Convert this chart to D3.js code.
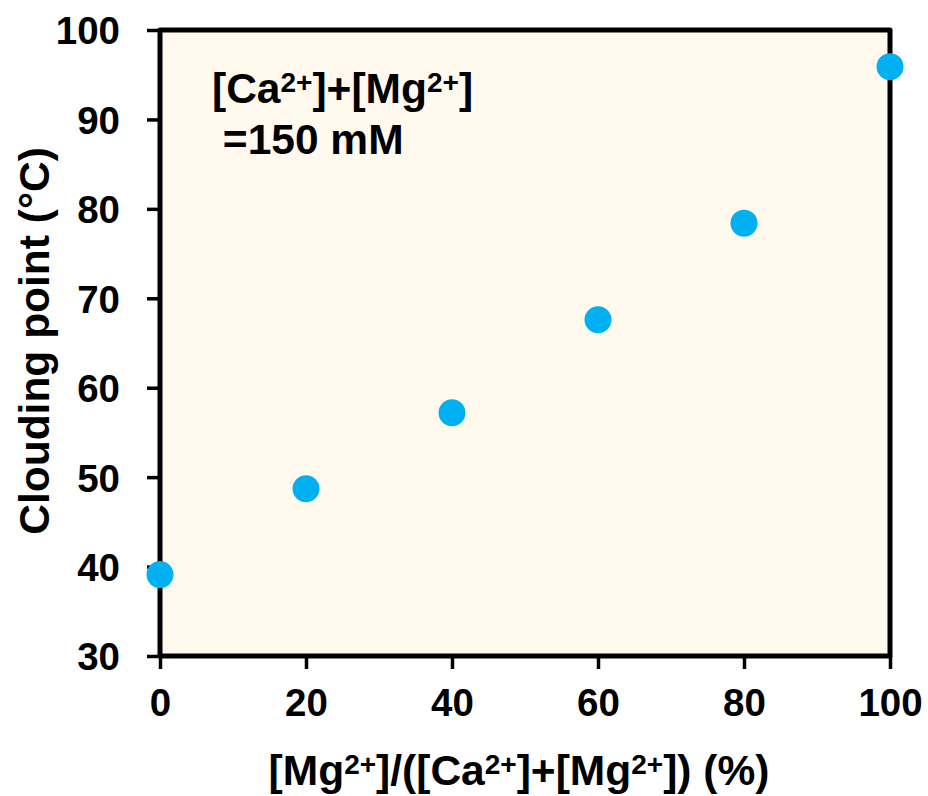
<!DOCTYPE html>
<html>
<head>
<meta charset="utf-8">
<script src="https://cdn.jsdelivr.net/npm/d3@7"></script>
<style>
  html, body { margin: 0; padding: 0; background: #ffffff; }
  svg { display: block; }
  text { font-family: "Liberation Sans", Arial, sans-serif; font-weight: bold; fill: #000; }
</style>
</head>
<body>
<svg id="chart" width="928" height="796"></svg>
<script>
// ---- data ----
const mgFraction = [0, 20, 40, 60, 80, 100];          // [Mg2+]/([Ca2+]+[Mg2+]) (%)
const cloudingPoint = [39.1, 48.7, 57.2, 67.6, 78.4, 95.9]; // °C
const xTicks = [0, 20, 40, 60, 80, 100];
const yTicks = [30, 40, 50, 60, 70, 80, 90, 100];

const svg = d3.select("#chart");
const margin = { left: 160, right: 38, top: 30, bottom: 140 };
const W = 928, H = 796;
const x = d3.scaleLinear().domain([0, 100]).range([margin.left, W - margin.right]);
const y = d3.scaleLinear().domain([30, 100]).range([H - margin.bottom, margin.top]);

// plot background
svg.append("rect")
  .attr("x", x(0)).attr("y", y(100))
  .attr("width", x(100) - x(0)).attr("height", y(30) - y(100))
  .attr("fill", "#FFF9EE");

// axes
const xAxis = svg.append("g")
  .attr("transform", `translate(0,${y(30)})`)
  .call(d3.axisBottom(x).tickValues(xTicks).tickSize(13).tickPadding(20));
const yAxis = svg.append("g")
  .attr("transform", `translate(${x(0)},0)`)
  .call(d3.axisLeft(y).tickValues(yTicks).tickSize(13).tickPadding(27));

[xAxis, yAxis].forEach(g => {
  g.select(".domain").remove();
  g.selectAll(".tick line").attr("stroke", "#000").attr("stroke-width", 3.5);
  g.selectAll(".tick text")
    .attr("font-size", 38.5)
    .attr("font-family", "'Liberation Sans', Arial, sans-serif")
    .attr("font-weight", "bold")
    .attr("fill", "#000");
});
yAxis.selectAll(".tick text").attr("dy", "0.36em");

// frame
svg.append("rect")
  .attr("x", x(0)).attr("y", y(100))
  .attr("width", x(100) - x(0)).attr("height", y(30) - y(100))
  .attr("fill", "none").attr("stroke", "#000").attr("stroke-width", 5)
  .attr("stroke-linejoin", "round");

// points
svg.append("g").selectAll("circle")
  .data(mgFraction.map((m, i) => ({ m, c: cloudingPoint[i] })))
  .join("circle")
  .attr("cx", d => x(d.m))
  .attr("cy", d => y(d.c))
  .attr("r", 13.5)
  .attr("fill", "#00B0F0");

// helper for text with superscripts
function richText(sel, parts, size) {
  parts.forEach(p => {
    if (p.sup) {
      sel.append("tspan").attr("baseline-shift", "40%").attr("font-size", size * 0.66).text(p.t);
    } else {
      sel.append("tspan").attr("font-size", size).text(p.t);
    }
  });
}

const FS = 42.5;

// annotation
const ann1 = svg.append("text").attr("x", 212).attr("y", 103).attr("font-size", FS);
richText(ann1, [{t: "[Ca"}, {t: "2+", sup: true}, {t: "]+[Mg"}, {t: "2+", sup: true}, {t: "]"}], FS);
svg.append("text").attr("x", 211).attr("y", 154).attr("font-size", FS).attr("xml:space", "preserve").text(" =150 mM");

// x title
const xt = svg.append("text").attr("x", 519).attr("y", 785).attr("text-anchor", "middle").attr("font-size", FS);
richText(xt, [{t: "[Mg"}, {t: "2+", sup: true}, {t: "]/([Ca"}, {t: "2+", sup: true}, {t: "]+[Mg"}, {t: "2+", sup: true}, {t: "]) (%)"}], FS);

// y title
svg.append("text")
  .attr("transform", `translate(49,341) rotate(-90)`)
  .attr("text-anchor", "middle")
  .attr("font-size", FS)
  .text("Clouding point (°C)");
</script>
</body>
</html>
